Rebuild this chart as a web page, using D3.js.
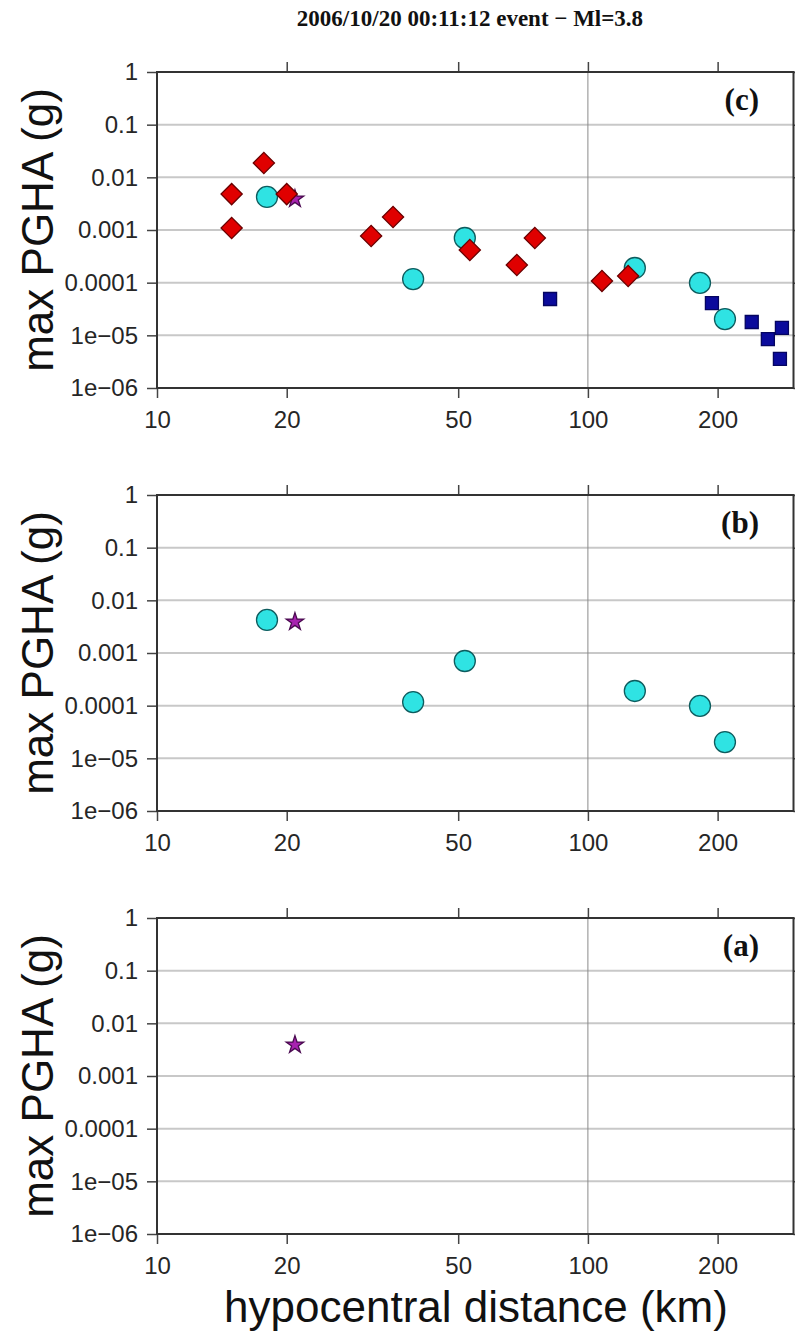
<!DOCTYPE html>
<html><head><meta charset="utf-8">
<script src="https://cdn.jsdelivr.net/npm/d3@7"></script>
<style>body{margin:0;background:#fff}</style>
</head><body>
<svg id="chart" width="795" height="1333" xmlns="http://www.w3.org/2000/svg"></svg>
<script>
const title = "2006/10/20 00:11:12 event \u2212 Ml=3.8";
const panelLabels = ["(c)", "(b)", "(a)"];
const xTitle = "hypocentral distance (km)";
const yTitle = "max PGHA (g)";
const xTicks = [10, 20, 50, 100, 200];
const xTickLabels = ["10", "20", "50", "100", "200"];
const yTicks = [1, 0.1, 0.01, 0.001, 0.0001, 1e-5, 1e-6];
const yTickLabels = ["1", "0.1", "0.01", "0.001", "0.0001", "1e\u221205", "1e\u221206"];
const xGrid = [100];

const diamondDist = [14.9, 14.9, 17.7, 20.0, 31.4, 35.3, 53.2, 68.4, 75.3, 107.8, 124];
const diamondPGHA = [0.0048, 0.00109, 0.0187, 0.0048, 0.00077, 0.00177, 0.000417, 0.000217, 0.000705, 0.000108, 0.000134];
const circleDist = [18.0, 39.3, 51.8, 128.5, 182, 208];
const circlePGHA = [0.00424, 0.000117, 0.000705, 0.00019, 0.000099, 0.0000204];
const squareDist = [81.7, 194, 240, 261.6, 282, 279];
const squarePGHA = [4.9e-5, 4.1e-5, 1.79e-5, 8.5e-6, 1.38e-5, 3.56e-6];
const starDist = [20.9];
const starPGHA = [0.0039];

const zip = (a, b) => a.map((d, i) => ({x: d, y: b[i]}));
const series = {
  square: zip(squareDist, squarePGHA),
  star: zip(starDist, starPGHA),
  circle: zip(circleDist, circlePGHA),
  diamond: zip(diamondDist, diamondPGHA)
};
const panelSeries = [
  ["square", "star", "circle", "diamond"],
  ["star", "circle"],
  ["star"]
];

const svg = d3.select("#chart");
const left = 157, right = 793.5, ph = 316;
const tops = [72, 495, 918];
const x = d3.scaleLog().domain([10, 300]).range([left, right]);
const tickFont = "'Liberation Sans', Arial, Helvetica, sans-serif";
const serif = "'Liberation Serif', 'Times New Roman', Times, serif";

svg.append("text").attr("x", 470).attr("y", 26).attr("text-anchor", "middle")
  .attr("font-family", serif).attr("font-weight", "bold").attr("font-size", 23)
  .attr("fill", "#111").text(title);

const styles = {
  square: {sym: d3.symbolSquare, size: 169, fill: "#0b0b9c", stroke: "#050560", rot: 0},
  star: {sym: d3.symbolStar, size: 95, fill: "#a822b0", stroke: "#4a0a50", rot: 0},
  circle: {sym: d3.symbolCircle, size: Math.PI * 10.5 * 10.5, fill: "#2fe3e3", stroke: "#0d5c5e", rot: 0},
  diamond: {sym: d3.symbolSquare, size: 225, fill: "#e00000", stroke: "#6a0000", rot: 45}
};

tops.forEach((top, pi) => {
  const y = d3.scaleLog().domain([1e-6, 1]).range([top + ph, top]);
  const g = svg.append("g");

  g.append("g").selectAll("line").data(yTicks).join("line")
    .attr("x1", left).attr("x2", right).attr("y1", d => y(d)).attr("y2", d => y(d))
    .attr("stroke", "#c8c8c8").attr("stroke-width", 2);
  g.append("g").selectAll("line").data(xGrid).join("line")
    .attr("x1", d => x(d)).attr("x2", d => x(d)).attr("y1", top).attr("y2", top + ph)
    .attr("stroke", "#8a8a8a").attr("stroke-width", 1);

  const ax = (a) => a.attr("font-family", tickFont).attr("font-size", 24)
    .call(s => s.select(".domain").remove())
    .call(s => s.selectAll(".tick line").attr("stroke", "#444").attr("stroke-width", 1.5))
    .call(s => s.selectAll(".tick text").attr("fill", "#262626"));

  g.append("g").attr("transform", `translate(${left},0)`)
    .call(d3.axisLeft(y).tickValues(yTicks).tickSize(10).tickPadding(9)
      .tickFormat((d, i) => yTickLabels[i])).call(ax);
  g.append("g").attr("transform", `translate(${right},0)`)
    .call(d3.axisRight(y).tickValues(yTicks).tickSize(10).tickFormat("")).call(ax);
  g.append("g").attr("transform", `translate(0,${top + ph})`)
    .call(d3.axisBottom(x).tickValues(xTicks).tickSize(10).tickPadding(13)
      .tickFormat((d, i) => xTickLabels[i])).call(ax);
  g.append("g").attr("transform", `translate(0,${top})`)
    .call(d3.axisTop(x).tickValues(xTicks.slice(1)).tickSize(10).tickFormat("")).call(ax);

  g.append("rect").attr("x", left).attr("y", top).attr("width", right - left).attr("height", ph)
    .attr("fill", "none").attr("stroke", "#333").attr("stroke-width", 2);

  panelSeries[pi].forEach(name => {
    const st = styles[name];
    g.append("g").selectAll("path").data(series[name]).join("path")
      .attr("d", d3.symbol().type(st.sym).size(st.size))
      .attr("transform", d => `translate(${x(d.x)},${y(d.y)}) rotate(${st.rot})`)
      .attr("fill", st.fill).attr("stroke", st.stroke).attr("stroke-width", 1.3);
  });

  g.append("text").attr("x", 759).attr("y", top + 38).attr("text-anchor", "end")
    .attr("font-family", serif).attr("font-weight", "bold").attr("font-size", 31)
    .attr("fill", "#111").text(panelLabels[pi]);

  g.append("text").attr("transform", `translate(53,${top + ph / 2}) rotate(-90)`)
    .attr("text-anchor", "middle").attr("font-family", tickFont).attr("font-size", 44)
    .attr("fill", "#111").text(yTitle);
});

svg.append("text").attr("x", 476).attr("y", 1322).attr("text-anchor", "middle")
  .attr("font-family", tickFont).attr("font-size", 44).attr("fill", "#111").text(xTitle);
</script>
</body></html>
